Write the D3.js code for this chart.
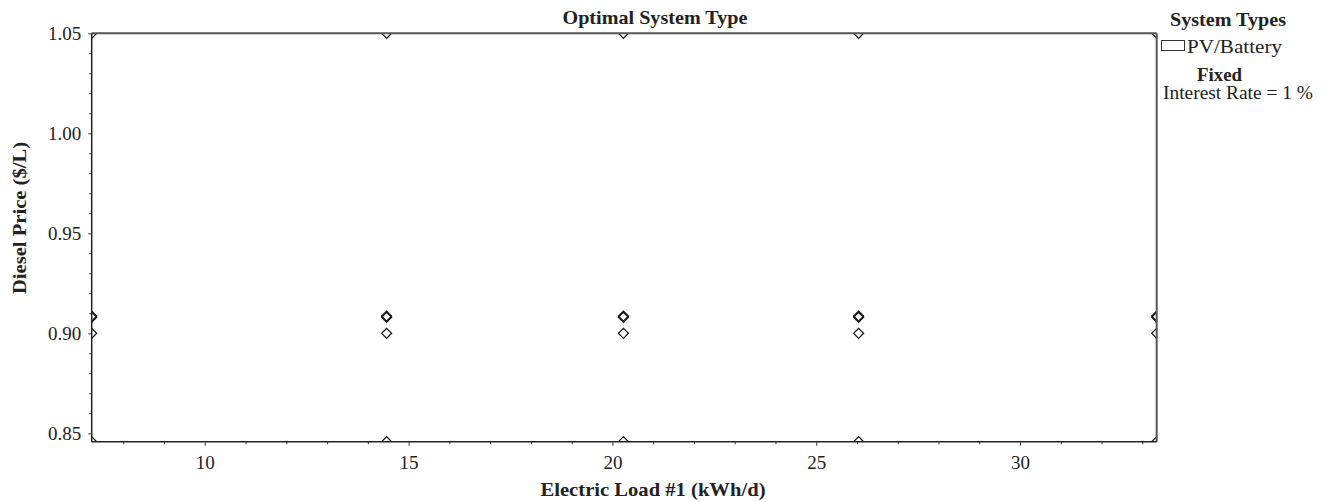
<!DOCTYPE html>
<html><head><meta charset="utf-8">
<script src="https://cdn.jsdelivr.net/npm/d3@7"></script>
<style>body{margin:0;background:#fff}svg{display:block}text{font-family:"Liberation Serif",serif;fill:#222}</style>
</head><body><svg id="c" width="1333" height="502"></svg>
<script>
const loads = [7.225, 14.46, 20.27, 26.04, 33.353];
const prices = [0.8458, 0.90, 0.908, 0.9086, 1.05];
const xTicks = [10, 15, 20, 25, 30];
const yTicks = [0.85, 0.90, 0.95, 1.00, 1.05];
const legendItems = ["PV/Battery"];
const fixedItems = ["Interest Rate = 1 %"];

const svg = d3.select("#c");
const L = 91.7, R = 1156.7, T = 33.3, B = 441.7;
const x = d3.scaleLinear().domain([d3.min(loads), d3.max(loads)]).range([L, R]);
const y = d3.scaleLinear().domain([d3.min(prices), d3.max(prices)]).range([B, T]);

const pts = [];
loads.forEach(l => prices.forEach(p => pts.push([l, p])));

svg.append("clipPath").attr("id","clip").append("rect").attr("x",L).attr("y",T).attr("width",R-L).attr("height",B-T);
const g = svg.append("g").attr("clip-path","url(#clip)");
g.selectAll("path").data(pts).join("path")
  .attr("d", d3.symbol().type(d3.symbolSquare).size(50))
  .attr("transform", d => `translate(${x(d[0])},${y(d[1])}) rotate(45)`)
  .attr("fill","none").attr("stroke","#111").attr("stroke-width",1.2);

// frame top/right
svg.append("line").attr("x1",L).attr("x2",R).attr("y1",T).attr("y2",T).attr("stroke","#555").attr("stroke-width",2);
svg.append("line").attr("x1",R).attr("x2",R).attr("y1",T).attr("y2",B).attr("stroke","#555").attr("stroke-width",2);

// axes
const xMinor = d3.range(8, 34, 1).filter(v => !xTicks.includes(v));
const yMinor = d3.range(85, 105, 1).map(v => v/100).filter(v => !yTicks.some(t => Math.abs(t-v)<1e-6));
const xAx = svg.append("g").attr("transform",`translate(0,${B})`);
xAx.call(d3.axisBottom(x).tickValues(xMinor).tickSize(2.5).tickFormat(""));
xAx.call(g2 => g2.select(".domain").remove());
const xAx2 = svg.append("g").attr("transform",`translate(0,${B})`);
xAx2.call(d3.axisBottom(x).tickValues(xTicks).tickSize(4).tickPadding(10).tickFormat(d3.format("d")));
xAx2.select(".domain").attr("stroke","#222").attr("stroke-width",1.5).attr("d",`M${L},0H${R}`);
const yAx = svg.append("g").attr("transform",`translate(${L},0)`);
yAx.call(d3.axisLeft(y).tickValues(yMinor).tickSize(2.5).tickFormat(""));
yAx.call(g2 => g2.select(".domain").remove());
const yAx2 = svg.append("g").attr("transform",`translate(${L},0)`);
yAx2.call(d3.axisLeft(y).tickValues(yTicks).tickSize(3.5).tickPadding(7).tickFormat(d3.format(".2f")));
yAx2.select(".domain").attr("stroke","#222").attr("stroke-width",1.5).attr("d",`M0,${T}V${B}`);
svg.selectAll(".tick line").attr("stroke","#333");
svg.selectAll(".tick text").attr("font-family","Liberation Serif").attr("font-size",19).attr("fill","#222");

function txt(x0, y0, s, size, bold, anchor, len) {
  const t = svg.append("text").attr("x",x0).attr("y",y0).attr("font-size",size)
    .attr("text-anchor",anchor).text(s);
  if (bold) t.attr("font-weight","bold");
  if (len) t.attr("textLength",len).attr("lengthAdjust","spacingAndGlyphs");
  return t;
}
// titles
txt(655, 24, "Optimal System Type", 19, true, "middle", 185);
txt(653, 496, "Electric Load #1 (kWh/d)", 19, true, "middle", 225);
svg.append("text").attr("transform","translate(26,218) rotate(-90)").attr("text-anchor","middle")
  .attr("font-weight","bold").attr("font-size",19).attr("textLength",152).attr("lengthAdjust","spacingAndGlyphs")
  .text("Diesel Price ($/L)");

// legend
txt(1170, 26, "System Types", 18, true, "start", 116);
legendItems.forEach((t,i) => {
  svg.append("rect").attr("x",1161.5).attr("y",40.5+i*20).attr("width",23).attr("height",10).attr("fill","#fff").attr("stroke","#333").attr("stroke-width",1);
  txt(1187, 52.5+i*20, t, 18, false, "start", 95);
});
txt(1197, 81, "Fixed", 18, true, "start", 45);
fixedItems.forEach((t,i) => txt(1163, 99+i*19, t, 18, false, "start", 150));
</script></body></html>
